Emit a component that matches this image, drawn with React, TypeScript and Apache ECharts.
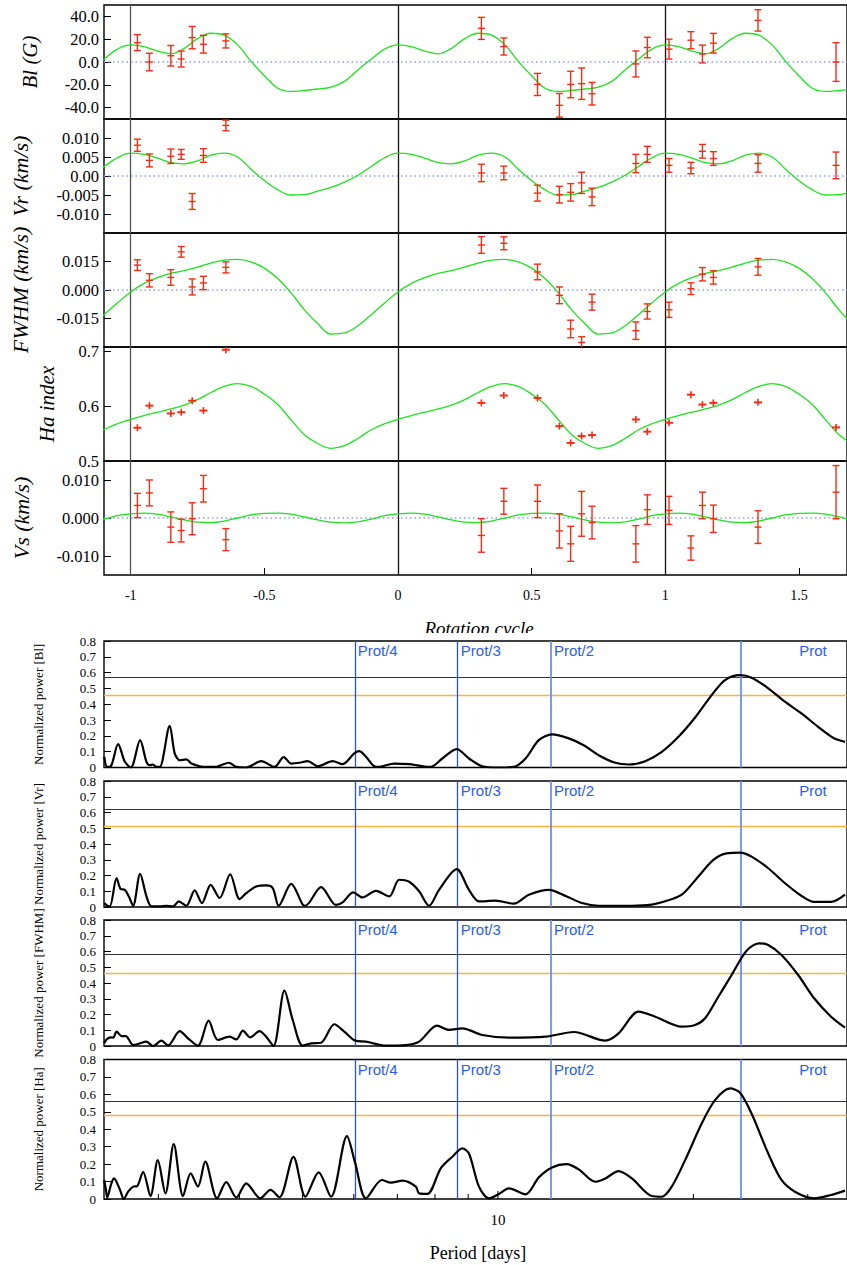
import React, { useEffect, useRef } from "react";
import * as echarts from "echarts";

const SERIF = '"Liberation Serif", "Times New Roman", Times, serif';
const SANS = '"Liberation Sans", Arial, Helvetica, sans-serif';

// ---------------- rotation-cycle panels ----------------
const cycles = [-0.975, -0.93, -0.85, -0.811, -0.77, -0.728, -0.644, 0.312, 0.396, 0.522, 0.604, 0.646, 0.687, 0.726, 0.89, 0.933, 1.014, 1.096, 1.139, 1.18, 1.347, 1.639];

const blValues = [17, 0, 5.5, 2.6, 21.4, 15.6, 18.5, 29.5, 13.6, -19.7, -38, -19.7, -19, -27.8, -1.7, 12.7, 11.3, 19.1, 7, 16.5, 36.5, 0];
const blErrors = [7, 7.7, 9, 7, 9.8, 7.8, 6.2, 9.7, 7.5, 9.7, 10.4, 11.6, 13.8, 9.9, 11.4, 9, 8.7, 7.5, 7.8, 8.6, 9.4, 17];

const vrValues = [0.0081, 0.0041, 0.0052, 0.0057, -0.0067, 0.0054, 0.0133, 0.0008, 0.0008, -0.0045, -0.0049, -0.0043, -0.0018, -0.0055, 0.0033, 0.0057, 0.0028, 0.0021, 0.0065, 0.0046, 0.0033, 0.0028];
const vrErrors = [0.0016, 0.0017, 0.0019, 0.0013, 0.0021, 0.0018, 0.0014, 0.0023, 0.0018, 0.0021, 0.0022, 0.0023, 0.0028, 0.0023, 0.0024, 0.0021, 0.0018, 0.0015, 0.0018, 0.0018, 0.0023, 0.0035];

const fwhmValues = [0.0131, 0.0051, 0.0066, 0.0201, 0.0016, 0.0037, 0.0119, 0.0237, 0.0246, 0.0095, -0.0028, -0.0205, -0.0276, -0.0064, -0.0214, -0.0113, -0.0104, 0.0007, 0.0083, 0.0066, 0.0122, null];
const fwhmErrors = [0.0028, 0.0035, 0.0041, 0.0028, 0.0042, 0.0035, 0.0029, 0.0044, 0.0034, 0.0041, 0.0044, 0.0046, 0.003, 0.0042, 0.0046, 0.004, 0.004, 0.0031, 0.0035, 0.0035, 0.0044, null];

const haValues = [0.5607, 0.601, 0.5867, 0.589, 0.61, 0.592, 0.703, 0.606, 0.6195, 0.615, 0.5636, 0.533, 0.5455, 0.5473, 0.5758, 0.5535, 0.5698, 0.621, 0.603, 0.606, 0.607, 0.5613];

const vsValues = [0.0033, 0.0066, -0.0024, -0.0033, -0.0002, 0.0077, -0.0057, -0.0046, 0.0044, 0.0044, -0.0034, -0.0068, 0.0011, -0.0012, -0.0068, 0.0022, 0.002, -0.0079, 0.0033, -0.0002, -0.0024, 0.0068];
const vsErrors = [0.0032, 0.0034, 0.004, 0.003, 0.0042, 0.0035, 0.0029, 0.0044, 0.0034, 0.0043, 0.0045, 0.0046, 0.0059, 0.0043, 0.0048, 0.0039, 0.0037, 0.0032, 0.0035, 0.0036, 0.0043, 0.007];

// model curves over one rotation (phase 0 .. 1)
const modelPhase = [0, 0.05, 0.1, 0.15, 0.2, 0.25, 0.3, 0.35, 0.4, 0.45, 0.5, 0.55, 0.6, 0.65, 0.7, 0.75, 0.8, 0.85, 0.9, 0.95, 1];
const blModel = [15, 13.5, 9.5, 7.2, 12, 20.5, 25.2, 23.5, 15, 0.5, -12, -23, -25.8, -25, -23.7, -22, -17, -7, 2.6, 11.3, 15];
const vrModel = [0.006, 0.0057, 0.0047, 0.0035, 0.0032, 0.004, 0.0055, 0.006, 0.005, 0.0018, -0.0012, -0.0036, -0.005, -0.0049, -0.004, -0.003, -0.0016, 0.0002, 0.0025, 0.0048, 0.006];
const fwhmModel = [-0.001, 0.0035, 0.0065, 0.0088, 0.0102, 0.012, 0.0142, 0.0157, 0.0161, 0.0148, 0.0115, 0.006, -0.0015, -0.0105, -0.0178, -0.0232, -0.0226, -0.0188, -0.013, -0.0068, -0.001];
const haModel = [0.576, 0.583, 0.589, 0.595, 0.602, 0.612, 0.625, 0.636, 0.641, 0.636, 0.622, 0.603, 0.575, 0.548, 0.532, 0.523, 0.528, 0.541, 0.557, 0.568, 0.576];
const vsModel = [0.0011, 0.0013, 0.001, 0.0003, -0.0005, -0.0011, -0.0012, -0.0008, 0, 0.0008, 0.0012, 0.0013, 0.001, 0.0003, -0.0005, -0.0011, -0.0013, -0.001, -0.0003, 0.0006, 0.0011];

const cycleTicks = [-1, -0.5, 0, 0.5, 1, 1.5];
const cycleMarkers = [-1, 0, 1];
const blTicks = [-40, -20, 0, 20, 40];
const vrTicks = [-0.01, -0.005, 0, 0.005, 0.01];
const fwhmTicks = [-0.015, 0, 0.015];
const haTicks = [0.5, 0.6, 0.7];
const vsTicks = [-0.01, 0, 0.01];

// ---------------- periodograms ----------------
const blPeriod = [2.476, 2.502, 2.535, 2.601, 2.664, 2.721, 2.812, 2.876, 2.91, 2.944, 2.98, 3.015, 3.123, 3.179, 3.236, 3.313, 3.373, 3.473, 3.556, 3.684, 3.75, 3.852, 3.955, 4.097, 4.32, 4.528, 4.679, 4.804, 4.947, 5.094, 5.278, 5.565, 5.765, 6.009, 6.116, 6.263, 6.488, 6.642, 6.922, 7.3, 7.562, 7.882, 8.212, 8.641, 9.025, 9.46, 10.036, 10.582, 11.029, 11.56, 12.117, 12.855, 13.555, 14.293, 15.163, 15.893, 16.86, 17.88, 18.967, 20.121, 21.338, 22.374, 23.593, 24.58, 26.078, 27.665, 29.338, 31.123, 32.818, 34.241];
const blPower = [0.068, 0.004, 0.008, 0.148, 0.036, 0, 0.173, 0.036, 0.015, 0.019, 0.004, 0.004, 0.264, 0.089, 0.046, 0.051, 0.025, 0.008, 0.004, 0.004, 0.015, 0.03, 0.004, 0, 0.04, 0.004, 0.065, 0.025, 0.03, 0.04, 0.008, 0.04, 0.021, 0.089, 0.103, 0.068, 0.004, 0.008, 0.025, 0.021, 0.012, 0.004, 0.057, 0.116, 0.057, 0.008, 0, 0.004, 0.057, 0.173, 0.209, 0.184, 0.141, 0.078, 0.03, 0.019, 0.04, 0.099, 0.194, 0.316, 0.458, 0.553, 0.584, 0.568, 0.501, 0.416, 0.342, 0.257, 0.188, 0.162];

const vrPeriod = [2.476, 2.502, 2.526, 2.587, 2.624, 2.664, 2.702, 2.743, 2.812, 2.876, 2.928, 3.015, 3.087, 3.16, 3.225, 3.313, 3.412, 3.501, 3.611, 3.728, 3.87, 4.001, 4.097, 4.244, 4.397, 4.501, 4.597, 4.804, 5.005, 5.053, 5.341, 5.633, 5.765, 5.988, 6.188, 6.488, 6.801, 7.046, 7.3, 7.562, 7.835, 8.117, 8.641, 9.025, 9.35, 9.919, 10.582, 11.159, 11.976, 12.765, 13.473, 14.293, 16.08, 17.258, 18.096, 19.189, 20.358, 21.467, 22.501, 23.593, 24.58, 26.078, 27.665, 29.173, 30.686, 32.587, 34.241];
const vrPower = [0.025, 0.008, 0.004, 0.183, 0.114, 0.109, 0.067, 0.008, 0.211, 0.067, 0.004, 0.004, 0.008, 0.004, 0.036, 0.008, 0.105, 0.025, 0.141, 0.057, 0.208, 0.05, 0.088, 0.13, 0.137, 0.12, 0.008, 0.147, 0.015, 0.008, 0.126, 0.013, 0.029, 0.093, 0.061, 0.103, 0.067, 0.173, 0.16, 0.1, 0.008, 0.109, 0.24, 0.109, 0.036, 0.04, 0.021, 0.078, 0.109, 0.067, 0.025, 0.008, 0.008, 0.015, 0.036, 0.078, 0.194, 0.299, 0.341, 0.345, 0.32, 0.246, 0.152, 0.078, 0.032, 0.032, 0.078];

const fwhmPeriod = [2.476, 2.497, 2.535, 2.556, 2.587, 2.633, 2.673, 2.743, 2.792, 2.876, 2.944, 3.033, 3.105, 3.236, 3.332, 3.452, 3.585, 3.705, 3.862, 3.955, 4.048, 4.155, 4.294, 4.397, 4.512, 4.691, 4.831, 5.005, 5.156, 5.341, 5.599, 5.8, 6.03, 6.263, 6.722, 7.215, 7.562, 8.059, 8.409, 8.814, 9.46, 10.397, 11.837, 13.084, 14.635, 15.341, 16.465, 17.467, 19.189, 20.121, 20.846, 21.85, 22.902, 24.147, 25.234, 26.078, 27.333, 28.998, 30.686, 32.587, 34.241];
const fwhmPower = [0.017, 0.042, 0.055, 0.053, 0.091, 0.063, 0.063, 0.006, 0.013, 0.028, 0, 0.034, 0.004, 0.095, 0.049, 0.002, 0.161, 0.038, 0.059, 0.042, 0.097, 0.055, 0.095, 0.059, 0, 0.351, 0.165, 0.002, 0.017, 0.021, 0.138, 0.091, 0.034, 0.028, 0.002, 0.006, 0.028, 0.129, 0.102, 0.112, 0.07, 0.053, 0.059, 0.089, 0.034, 0.08, 0.218, 0.186, 0.123, 0.133, 0.176, 0.313, 0.451, 0.605, 0.652, 0.641, 0.578, 0.451, 0.303, 0.186, 0.116];

const haPeriod = [2.476, 2.491, 2.502, 2.535, 2.563, 2.617, 2.654, 2.695, 2.743, 2.783, 2.842, 2.917, 2.994, 3.076, 3.168, 3.274, 3.364, 3.452, 3.543, 3.694, 3.817, 3.955, 4.097, 4.305, 4.464, 4.609, 4.843, 5.053, 5.296, 5.534, 5.855, 6.03, 6.263, 6.627, 6.842, 7.129, 7.475, 7.562, 7.788, 8.165, 8.507, 8.814, 9.025, 9.35, 9.687, 10.036, 10.397, 11.029, 11.56, 12.117, 12.765, 13.317, 14.127, 14.635, 15.341, 16.08, 17.258, 17.88, 18.523, 19.422, 20.598, 21.597, 22.772, 23.593, 24.58, 26.078, 27.333, 28.662, 30.686, 32.587, 34.241];
const haPower = [0.109, 0.052, 0.008, 0.08, 0.118, 0.055, 0, 0.042, 0.071, 0.074, 0.156, 0.017, 0.223, 0.032, 0.315, 0.017, 0.147, 0.071, 0.214, 0.004, 0.097, 0.008, 0.09, 0.004, 0.052, 0.01, 0.242, 0.013, 0.153, 0.013, 0.361, 0.204, 0.004, 0.109, 0.094, 0.105, 0.071, 0.032, 0.029, 0.176, 0.242, 0.29, 0.261, 0.071, 0.004, 0.029, 0.061, 0.027, 0.124, 0.181, 0.2, 0.17, 0.099, 0.118, 0.16, 0.118, 0.017, 0.013, 0.071, 0.223, 0.433, 0.567, 0.634, 0.609, 0.49, 0.261, 0.109, 0.042, 0.004, 0.023, 0.048];

const fapHigh = [0.567, 0.62, 0.578, 0.5615];
const fapLow = [0.456, 0.51, 0.457, 0.481];
const protPeriods = [6.017, 8.674, 12.07, 23.67];
const protLabels = ["Prot/4", "Prot/3", "Prot/2", "Prot"];
const protLabelPeriods = [6.017, 8.674, 12.07, 28.79];
const periodTicks = [3, 4, 5, 6, 7, 8, 9, 10, 20, 30];
const periodLabels = [10];

const RED = "#f52c14";
const GREEN = "#1ee21e";

function periodic(model: number[]) {
  const out: number[][] = [];
  for (let c = -2; c <= 1; c++) {
    modelPhase.forEach((ph, k) => {
      if (c > -2 && k === 0) return;
      const x = c + ph;
      if (x >= -1.25 && x <= 1.85) out.push([x, model[k]]);
    });
  }
  return out;
}

function seg(x1: number, y1: number, x2: number, y2: number, w = 1.4) {
  return { type: "line", shape: { x1, y1, x2, y2 }, style: { stroke: RED, lineWidth: w } };
}

function renderErr(params: any, api: any) {
  const x = api.value(0);
  const y = api.value(1);
  const e = api.value(2);
  const c = api.coord([x, y]);
  const hw = 3.5;
  const kids: any[] = [];
  if (e > 0) {
    const t = api.coord([x, y + e])[1];
    const b = api.coord([x, y - e])[1];
    kids.push(seg(c[0], t, c[0], b));
    kids.push(seg(c[0] - hw, t, c[0] + hw, t));
    kids.push(seg(c[0] - hw, b, c[0] + hw, b));
    kids.push(seg(c[0] - hw, c[1], c[0] + hw, c[1]));
  } else {
    kids.push(seg(c[0], c[1] - 3.5, c[0], c[1] + 3.5, 1.6));
    kids.push(seg(c[0] - 4, c[1], c[0] + 4, c[1], 2));
  }
  return { type: "group", children: kids };
}

function zip(a: number[], b: number[]) {
  return a.map((v, i) => [v, b[i]]);
}

export default function App() {
  const ref = useRef<HTMLDivElement>(null);

  useEffect(() => {
    document.body.style.margin = "0";
    const chart = echarts.init(ref.current!, undefined, { renderer: "svg" });

    const topPanels = [
      { title: "Bl (G)", tx: 30, fs: 21, values: blValues, errors: blErrors, model: blModel, min: -50, max: 50, ticks: blTicks, fmt: (v: number) => v.toFixed(1), zero: true },
      { title: "Vr (km/s)", tx: 20.5, fs: 22, values: vrValues, errors: vrErrors, model: vrModel, min: -0.015, max: 0.015, ticks: vrTicks, fmt: (v: number) => (v === 0 ? "0.00" : v.toFixed(3)), zero: true },
      { title: "FWHM (km/s)", tx: 20.5, fs: 22, values: fwhmValues, errors: fwhmErrors, model: fwhmModel, min: -0.03, max: 0.03, ticks: fwhmTicks, fmt: (v: number) => v.toFixed(3), zero: true },
      { title: "Ha index", tx: 46.5, fs: 21, values: haValues, errors: null, model: haModel, min: 0.5, max: 0.708, ticks: haTicks, fmt: (v: number) => v.toFixed(1), zero: false },
      { title: "Vs (km/s)", tx: 21, fs: 22, values: vsValues, errors: vsErrors, model: vsModel, min: -0.015, max: 0.015, ticks: vsTicks, fmt: (v: number) => v.toFixed(3), zero: true },
    ];
    const topTops = [5, 119, 233, 347, 461];
    const topH = 114;

    const grid: any[] = [];
    const xAxis: any[] = [];
    const yAxis: any[] = [];
    const series: any[] = [];
    const graphic: any[] = [];

    topPanels.forEach((p, i) => {
      const bottom = i === topPanels.length - 1;
      grid.push({ left: 104, right: -2, top: topTops[i], height: topH, show: true, borderColor: "#000", borderWidth: 1.4 });
      xAxis.push({
        gridIndex: i, type: "value", min: -1.1, max: 1.68, position: "bottom",
        axisLine: { show: false, onZero: false }, splitLine: { show: false },
        axisTick: { show: bottom, inside: true, length: 7, customValues: cycleTicks, lineStyle: { color: "#000", width: 1 } },
        axisLabel: { show: bottom, customValues: cycleTicks, formatter: (v: number) => String(v), fontFamily: SERIF, fontSize: 14, color: "#000", margin: 13 },
      });
      yAxis.push({
        gridIndex: i, type: "value", min: p.min, max: p.max,
        axisLine: { show: false, onZero: false }, splitLine: { show: false },
        axisTick: { inside: true, length: 7, customValues: p.ticks, lineStyle: { color: "#000", width: 1 } },
        axisLabel: { customValues: p.ticks, formatter: p.fmt, fontFamily: SERIF, fontSize: 16.5, color: "#000", margin: 5 },
      });
      const markData: any[] = cycleMarkers.map((c) => ({ xAxis: c, lineStyle: { color: c === -1 ? "#555" : "#111", width: 1.3, type: "solid" } }));
      if (p.zero) markData.push({ yAxis: 0, lineStyle: { color: "#8b9cf2", width: 1.5, type: [1.5, 3] } });
      series.push({
        type: "line", xAxisIndex: i, yAxisIndex: i, data: periodic(p.model), smooth: 0.4, showSymbol: false, clip: true,
        lineStyle: { color: GREEN, width: 1.3 }, z: 3,
        markLine: { silent: true, symbol: ["none", "none"], label: { show: false }, data: markData, z: 2 },
      });
      const pts = cycles
        .map((c, k) => [c, p.values[k], p.errors ? p.errors[k] : 0])
        .filter((d) => d[1] !== null && d[1] !== undefined);
      series.push({ type: "custom", xAxisIndex: i, yAxisIndex: i, clip: true, data: pts, renderItem: renderErr, z: 4 });
      graphic.push({
        type: "text", x: p.tx, y: topTops[i] + topH / 2, rotation: Math.PI / 2,
        style: { text: p.title, fontFamily: SERIF, fontStyle: "italic", fontSize: p.fs, fill: "#000", align: "center", verticalAlign: "middle" },
      });
    });

    const perPanels = [
      { title: "Normalized power [Bl]", period: blPeriod, power: blPower },
      { title: "Normalized power [Vr]", period: vrPeriod, power: vrPower },
      { title: "Normalized power [FWHM]", period: fwhmPeriod, power: fwhmPower },
      { title: "Normalized power [Ha]", period: haPeriod, power: haPower },
    ];
    const pTops = [641, 781, 920, 1059.5];
    const pHeights = [126.5, 126, 126, 139.5];

    perPanels.forEach((p, j) => {
      const gi = topPanels.length + j;
      grid.push({ left: 104, right: -2, top: pTops[j], height: pHeights[j], show: true, borderColor: "#000", borderWidth: 1.4 });
      xAxis.push({
        gridIndex: gi, type: "log", logBase: 10, min: 2.474, max: 34.48, position: "bottom",
        axisLine: { show: false, onZero: false }, splitLine: { show: false }, axisTick: { show: false }, axisLabel: { show: false },
      });
      yAxis.push({
        gridIndex: gi, type: "value", min: 0, max: 0.8, interval: 0.1,
        axisLine: { show: false, onZero: false }, splitLine: { show: false },
        axisTick: { inside: true, length: 7, lineStyle: { color: "#000", width: 1 } },
        axisLabel: { formatter: (v: number) => (v === 0 ? "0" : v.toFixed(1)), fontFamily: SERIF, fontSize: 13, lineHeight: 11, color: "#000", margin: 8 },
      });
      const markData: any[] = [
        { yAxis: fapHigh[j], lineStyle: { color: "#333", width: 1.2, type: "solid" } },
        { yAxis: fapLow[j], lineStyle: { color: "#f7b53b", width: 1.4, type: "solid" } },
        ...protPeriods.map((pp, k) => ({ xAxis: pp, lineStyle: { color: k < 2 ? "#2350f2" : "#6f8cff", width: k < 2 ? 1.3 : 1.8, type: "solid" } })),
      ];
      series.push({
        type: "line", xAxisIndex: gi, yAxisIndex: gi, data: zip(p.period, p.power), smooth: 0.3, showSymbol: false, clip: true,
        lineStyle: { color: "#000", width: 2.2 }, z: 3,
        markLine: { silent: true, symbol: ["none", "none"], label: { show: false }, data: markData, z: 2 },
      });
      series.push({
        type: "custom", xAxisIndex: gi, yAxisIndex: gi, clip: false, z: 4,
        data: protLabelPeriods.map((v) => [v, 0.8]),
        renderItem: (params: any, api: any) => {
          const c = api.coord([api.value(0), api.value(1)]);
          return {
            type: "text", x: c[0] + 3, y: c[1] + 2,
            style: { text: protLabels[params.dataIndex], fill: "#2a5cf2", fontFamily: SANS, fontSize: 15, align: "left", verticalAlign: "top" },
          };
        },
      });
      graphic.push({
        type: "text", x: 38, y: pTops[j] + pHeights[j] / 2, rotation: Math.PI / 2,
        style: { text: p.title, fontFamily: SERIF, fontSize: 13, fill: "#000", align: "center", verticalAlign: "middle" },
      });
      if (j === perPanels.length - 1) {
        series.push({
          type: "custom", xAxisIndex: gi, yAxisIndex: gi, clip: false, z: 4,
          data: periodTicks.map((v) => [v, 0]),
          renderItem: (params: any, api: any) => {
            const v = api.value(0);
            const c = api.coord([v, 0]);
            const major = periodLabels.indexOf(v) >= 0;
            const kids: any[] = [
              { type: "line", shape: { x1: c[0], y1: c[1], x2: c[0], y2: c[1] - (major ? 8 : 5) }, style: { stroke: "#000", lineWidth: 1 } },
            ];
            if (major) {
              kids.push({ type: "text", x: c[0], y: c[1] + 21, style: { text: String(v), fontFamily: SERIF, fontSize: 15, fill: "#000", align: "center", verticalAlign: "middle" } });
            }
            return { type: "group", children: kids };
          },
        });
      }
    });

    graphic.push({
      type: "text", x: 479, y: 628, z: 10,
      style: { text: "Rotation cycle", fontFamily: SERIF, fontStyle: "italic", fontSize: 19, fill: "#000", align: "center", verticalAlign: "middle" },
    });
    graphic.push({ type: "rect", z: 11, shape: { x: 400, y: 633, width: 170, height: 7 }, style: { fill: "#fff" } });
    graphic.push({
      type: "text", x: 478, y: 1253,
      style: { text: "Period [days]", fontFamily: SERIF, fontSize: 18, fill: "#000", align: "center", verticalAlign: "middle" },
    });

    chart.setOption({
      animation: false,
      backgroundColor: "#fff",
      grid, xAxis, yAxis, series, graphic,
    });
    return () => chart.dispose();
  }, []);

  return <div ref={ref} style={{ position: "absolute", left: 0, top: 0, width: 847, height: 1265 }} />;
}
